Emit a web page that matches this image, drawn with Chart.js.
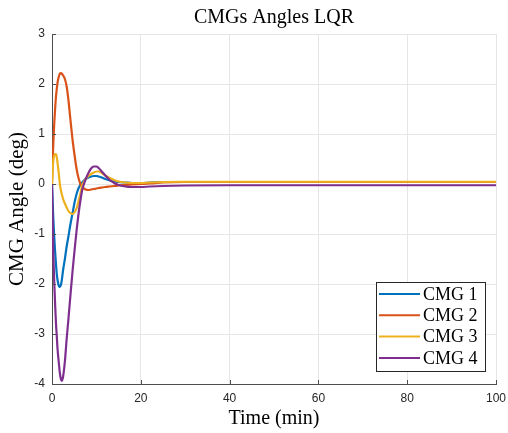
<!DOCTYPE html>
<html>
<head>
<meta charset="utf-8">
<script src="https://cdn.jsdelivr.net/npm/chart.js@4"></script>
<style>
  html, body { margin: 0; padding: 0; background: #fff; }
  canvas { display: block; }
</style>
</head>
<body>
<canvas id="cmgAngles" width="508" height="433"></canvas>
<script>
// time in minutes, angles in degrees
const time = [0, 0.15, 0.3, 0.5, 0.7, 0.9, 1.05, 1.25, 1.45, 1.65, 1.8, 2.0, 2.2, 2.5, 2.9, 3.3, 3.7, 4.1, 4.65, 5.2,
  5.6, 6.0, 6.4, 6.8, 7.2, 7.6, 8.2, 8.8, 9.4, 10.0, 10.5, 11.2, 12, 13, 14, 15, 16.5, 18, 20, 22,
  25, 30, 40, 60, 80, 100];
const cmg1 = [0, -0.35, -0.7, -1.05, -1.35, -1.6, -1.78, -1.92, -2.01, -2.06, -2.06, -2.02, -1.93, -1.72, -1.5, -1.25, -1.05, -0.83, -0.57, -0.32,
  -0.18, -0.08, -0.01, 0.03, 0.07, 0.1, 0.13, 0.15, 0.16, 0.16, 0.15, 0.13, 0.1, 0.07, 0.05, 0.04, 0.03, 0.02, 0.02, 0.03,
  0.04, 0.04, 0.04, 0.04, 0.04, 0.04];
const cmg2 = [0, 0.45, 0.82, 1.2, 1.5, 1.75, 1.88, 2.03, 2.12, 2.18, 2.21, 2.22, 2.21, 2.17, 2.1, 1.95, 1.68, 1.33, 0.87, 0.5,
  0.27, 0.11, 0.0, -0.06, -0.09, -0.11, -0.12, -0.11, -0.1, -0.09, -0.08, -0.07, -0.06, -0.05, -0.04, -0.03, -0.02, -0.01, 0.0, 0.01,
  0.03, 0.04, 0.04, 0.04, 0.04, 0.04];
const cmg3 = [0, 0.3, 0.47, 0.57, 0.6, 0.6, 0.55, 0.42, 0.27, 0.1, -0.02, -0.12, -0.2, -0.3, -0.39, -0.47, -0.54, -0.58, -0.6, -0.55,
  -0.47, -0.33, -0.19, -0.03, 0.05, 0.1, 0.16, 0.2, 0.23, 0.25, 0.25, 0.22, 0.17, 0.12, 0.08, 0.05, 0.03, 0.02, 0.02, 0.03,
  0.04, 0.045, 0.045, 0.045, 0.045, 0.045];
const cmg4 = [0, -0.75, -1.4, -1.95, -2.4, -2.8, -3.0, -3.3, -3.5, -3.68, -3.8, -3.9, -3.94, -3.85, -3.55, -3.1, -2.7, -2.28, -1.72, -1.22,
  -0.88, -0.58, -0.33, -0.12, 0.0, 0.1, 0.22, 0.31, 0.35, 0.35, 0.32, 0.25, 0.17, 0.08, 0.02, -0.02, -0.05, -0.06, -0.06, -0.05,
  -0.04, -0.03, -0.025, -0.025, -0.025, -0.025];

const series = [cmg1, cmg2, cmg3, cmg4];
const names = ['CMG 1', 'CMG 2', 'CMG 3', 'CMG 4'];
const colors = ['#0072BD', '#D95319', '#EDB120', '#7E2F8E'];
const chartTitle = 'CMGs Angles LQR';

const axisColor = '#4d4d4d';
const serif = '"Liberation Serif", "Times New Roman", serif';

// title centred over the plot area (MATLAB style)
const areaTitle = {
  id: 'areaTitle',
  afterDraw(chart) {
    const ctx = chart.ctx, a = chart.chartArea;
    ctx.save();
    ctx.font = '20px ' + serif;
    ctx.fillStyle = '#000';
    ctx.textAlign = 'center';
    ctx.textBaseline = 'middle';
    ctx.fillText(chartTitle, (a.left + a.right) / 2, 18);
    ctx.restore();
  }
};

// MATLAB-style inward tick marks
const innerTicks = {
  id: 'innerTicks',
  afterDraw(chart) {
    const ctx = chart.ctx, a = chart.chartArea;
    const xs = chart.scales.x, ys = chart.scales.y;
    ctx.save();
    ctx.strokeStyle = axisColor;
    ctx.lineWidth = 1;
    ctx.beginPath();
    xs.ticks.forEach(t => {
      const px = Math.round(xs.getPixelForValue(t.value)) + 0.5;
      ctx.moveTo(px, a.bottom);
      ctx.lineTo(px, a.bottom - 4);
    });
    ys.ticks.forEach(t => {
      const py = Math.round(ys.getPixelForValue(t.value)) + 0.5;
      ctx.moveTo(a.left, py);
      ctx.lineTo(a.left + 4, py);
    });
    ctx.stroke();
    ctx.restore();
  }
};

// legend box inside the lower right corner
const boxLegend = {
  id: 'boxLegend',
  afterDraw(chart) {
    const ctx = chart.ctx, a = chart.chartArea;
    const x = a.right - 120, y = a.bottom - 102, w = 109, h = 89;
    ctx.save();
    ctx.fillStyle = '#fff';
    ctx.fillRect(x, y, w, h);
    ctx.strokeStyle = '#262626';
    ctx.lineWidth = 1;
    ctx.strokeRect(x + 0.5, y + 0.5, w, h);
    ctx.font = '18px ' + serif;
    ctx.textBaseline = 'middle';
    chart.data.datasets.forEach((ds, i) => {
      const cy = y + 12 + i * 21.3;
      ctx.strokeStyle = ds.borderColor;
      ctx.lineWidth = 2;
      ctx.beginPath();
      ctx.moveTo(x + 3, cy);
      ctx.lineTo(x + 44, cy);
      ctx.stroke();
      ctx.fillStyle = '#000';
      ctx.fillText(ds.label, x + 47, cy + 1);
    });
    ctx.restore();
  }
};

new Chart('cmgAngles', {
  type: 'line',
  data: {
    datasets: series.map((vals, i) => ({
      label: names[i],
      data: time.map((t, k) => ({ x: t, y: vals[k] })),
      borderColor: colors[i],
      backgroundColor: colors[i],
      borderWidth: 2.2,
      pointRadius: 0,
      cubicInterpolationMode: 'monotone',
      order: 4 - i
    }))
  },
  options: {
    responsive: false,
    animation: false,
    devicePixelRatio: 1,
    layout: { padding: { left: 0, right: 12, top: 34, bottom: 0 } },
    plugins: {
      legend: { display: false },
      tooltip: { enabled: false },
      title: { display: false }
    },
    scales: {
      x: {
        type: 'linear',
        min: 0,
        max: 100,
        afterFit(s) { s.height = 49; s.paddingRight = 0; s.paddingLeft = 0; },
        ticks: {
          stepSize: 20,
          padding: 7,
          maxRotation: 0,
          color: '#262626',
          font: { family: '"Liberation Sans", Arial, sans-serif', size: 12 }
        },
        grid: { color: '#e6e6e6', drawTicks: false },
        border: { color: axisColor },
        title: {
          display: true,
          text: 'Time (min)',
          color: '#000',
          font: { family: serif, size: 20 },
          padding: { top: 0, bottom: 2 }
        }
      },
      y: {
        min: -4,
        max: 3,
        afterFit(s) { s.width = 52; s.paddingTop = 0; s.paddingBottom = 0; },
        ticks: {
          stepSize: 1,
          padding: 7,
          color: '#262626',
          font: { family: '"Liberation Sans", Arial, sans-serif', size: 12 }
        },
        grid: { color: '#e6e6e6', drawTicks: false },
        border: { color: axisColor },
        title: {
          display: true,
          text: 'CMG Angle (deg)',
          color: '#000',
          font: { family: serif, size: 21 },
          padding: { top: 5, bottom: 0 }
        }
      }
    }
  },
  plugins: [innerTicks, boxLegend, areaTitle]
});
</script>
</body>
</html>
